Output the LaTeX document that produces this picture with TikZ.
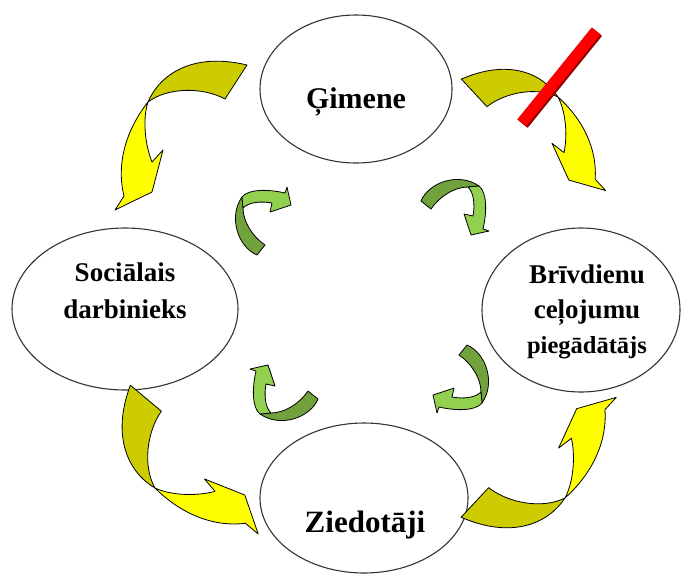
\documentclass[tikz,border=0pt]{standalone}
\usepackage{fontspec}
\setmainfont{Liberation Serif}
\usepackage{tikz}
\usetikzlibrary{shapes.geometric, positioning, shadows}
\definecolor{yeldark}{RGB}{204,204,0}
\definecolor{yellight}{RGB}{255,255,0}
\definecolor{grndark}{RGB}{114,162,60}
\definecolor{grnlight}{RGB}{146,208,80}
\tikzstyle{oval} = [draw=black!80, line width=1.1pt, ellipse, inner sep=0pt]
\tikzstyle{lbl} = [align=center, inner sep=0pt]
\tikzstyle{band} = [draw=black, line width=0.8pt, line join=round]
\tikzstyle{redbar} = [fill=red, draw=red!85!black, minimum width=118pt, minimum height=11pt, inner sep=0pt,
    drop shadow={shadow xshift=1.5pt, shadow yshift=-1.5pt, fill=red!55!black, opacity=1}]
\tikzset{
    bigarrow/.pic={
        \draw[band, fill=yeldark] (0,0) .. controls (12,-28) and (45,-50) .. (99,-37)
            -- (77,-3) .. controls (55,-15) and (20,-15) .. (0,0) -- cycle;
        \draw[band, fill=yellight] (0,0) .. controls (-22,28) and (-32,62) .. (-24,94)
            -- (-33,108) -- (4,90) -- (15,48) -- (4,60) .. controls (-4,40) and (-5,15) .. (0,0) -- cycle;
    },
    smallarrow/.pic={
        \draw[band, fill=grndark] (14,53) .. controls (-5,45) and (-15,15) .. (-1,-5)
            -- (0,6) .. controls (0,20) and (10,35) .. (22,43) -- cycle;
        \draw[band, fill=grnlight] (-1,-5) .. controls (5,-13) and (25,-13) .. (42,-9)
            -- (44,-15) -- (48,3) -- (27,10) -- (29,1) .. controls (18,-1) and (6,0) .. (0,6) -- cycle;
    }
}

\begin{document}
\begin{tikzpicture}[x=1pt, y=-1pt]
    \useasboundingbox (0,0) rectangle (684,576);

    % ovals
    \node[oval, minimum width=192pt, minimum height=148pt] (gimene) at (356,89) {};
    \node[oval, minimum width=226pt, minimum height=162pt] (socialais) at (125,309) {};
    \node[oval, minimum width=198pt, minimum height=164pt] (brivdienu) at (581,310) {};
    \node[oval, minimum width=208pt, minimum height=150pt] (ziedotaji) at (364,498) {};

    \node[lbl, font=\fontsize{30}{36}\selectfont\bfseries] (gimenetxt) at (356,102) {Ģimene};
    \node[lbl, font=\fontsize{27}{37}\selectfont\bfseries] (socialaistxt) at (125,291) {Sociālais\\darbinieks};
    \node[lbl, font=\fontsize{27}{35}\selectfont\bfseries] (brivdienutxt) at (587,312)
        {Brīvdienu\\ceļojumu\\{\fontsize{24.5}{35}\selectfont piegādātājs}};
    \node[lbl, font=\fontsize{31}{36}\selectfont\bfseries] (ziedotajitxt) at (365,525) {Ziedotāji};

    % outer arrows
    \pic at (148,102) {bigarrow};
    \pic[rotate=10, xscale=-1, scale=0.93] at (558,97) {bigarrow};
    \pic[rotate=83] at (155,488) {bigarrow};
    \pic[rotate=170] at (565,498) {bigarrow};

    % inner arrows
    \pic at (243,202) {smallarrow};
    \pic[rotate=-90] at (474,187) {smallarrow};
    \pic[rotate=180] at (481,398) {smallarrow};
    \pic[rotate=90] at (265,413) {smallarrow};

    \node[redbar, rotate=51] (bar) at (559,77) {};
\end{tikzpicture}
\end{document}
